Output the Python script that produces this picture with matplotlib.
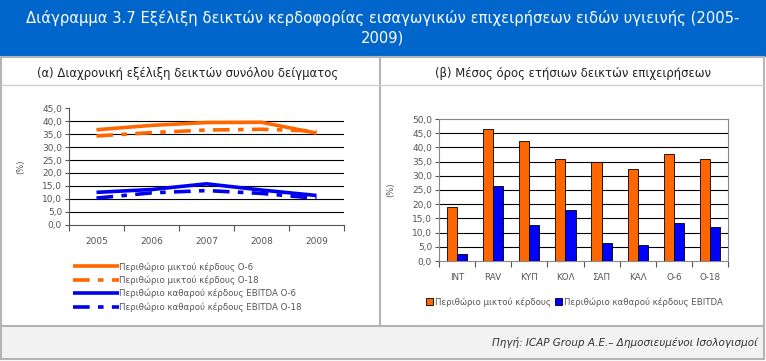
import matplotlib
matplotlib.use("Agg")
import matplotlib.pyplot as plt
from matplotlib.patches import Rectangle
import numpy as np

plt.rcParams['font.family'] = ['DejaVu Sans']
plt.rcParams['lines.scale_dashes'] = False

# ---- data ----
years = ['2005', '2006', '2007', '2008', '2009']
gross_o6 = [36.7, 38.4, 39.5, 39.6, 35.4]
gross_o18 = [34.3, 35.6, 36.6, 36.9, 36.2]
ebitda_o6 = [12.5, 13.6, 15.8, 13.4, 11.3]
ebitda_o18 = [10.3, 12.3, 13.2, 12.1, 10.2]
line_labels = ['Περιθώριο μικτού κέρδους Ο-6', 'Περιθώριο μικτού κέρδους Ο-18',
               'Περιθώριο καθαρού κέρδους EBITDA Ο-6', 'Περιθώριο καθαρού κέρδους EBITDA Ο-18']

groups = ['INT', 'RAV', 'ΚΥΠ', 'ΚΟΛ', 'ΣΑΠ', 'ΚΑΛ', 'Ο-6', 'Ο-18']
gross_avg = [19.0, 46.5, 42.3, 36.0, 35.0, 32.5, 37.8, 36.0]
ebitda_avg = [2.5, 26.5, 12.7, 18.0, 6.5, 5.8, 13.4, 12.0]
bar_labels = ['Περιθώριο μικτού κέρδους', 'Περιθώριο καθαρού κέρδους EBITDA']

title = 'Διάγραμμα 3.7 Εξέλιξη δεικτών κερδοφορίας εισαγωγικών επιχειρήσεων ειδών υγιεινής (2005-\n2009)'
sub_a = '(α) Διαχρονική εξέλιξη δεικτών συνόλου δείγματος'
sub_b = '(β) Μέσος όρος ετήσιων δεικτών επιχειρήσεων'
source = 'Πηγή: ICAP Group A.E.– Δημοσιευμένοι Ισολογισμοί'

W, H = 766, 361
fig = plt.figure(figsize=(W/100, H/100), dpi=100)
fig.patch.set_facecolor('white')

def fx(x): return x / W
def fy(y): return 1 - y / H

ORANGE = '#FF6600'
BLUE = '#0000F0'
GRAY = '#555555'
FRAME = '#B4B4B4'

# backgrounds / frames
bg = fig.add_axes([0, 0, 1, 1])
bg.set_xlim(0, W); bg.set_ylim(H, 0); bg.axis('off')
bg.add_patch(Rectangle((0, 0), W, 57, facecolor='#0066CC', edgecolor='none'))
bg.add_patch(Rectangle((1, 57), W-3, H-59, facecolor='none', edgecolor=FRAME, lw=1.5))
bg.plot([380, 380], [57, 326], color=FRAME, lw=1.5)
bg.plot([1, W-2], [85, 85], color='#D0D0D0', lw=1)
bg.add_patch(Rectangle((1, 326), W-3, H-328, facecolor='#F2F2F2', edgecolor=FRAME, lw=1.5))
bg.text(W/2, 28, title, color='white', fontsize=10.6, ha='center', va='center', linespacing=1.4)
bg.text(188, 73, sub_a, fontsize=8.4, ha='center', va='center', color='#222222')
bg.text(573, 73, sub_b, fontsize=8.4, ha='center', va='center', color='#222222')
bg.text(758, 343, source, fontsize=7.5, ha='right', va='center', style='italic', color='#333333')

# ---- left line chart ----
ax1 = fig.add_axes([fx(69), fy(224.7), fx(344-69), (224.7-108.3)/H])
x = np.arange(len(years))
ax1.plot(x, gross_o6, color=ORANGE, lw=2.6, solid_capstyle='butt', label=line_labels[0])
ax1.plot(x, gross_o18, color=ORANGE, lw=2.6, dashes=(12, 6, 4, 6), label=line_labels[1])
ax1.plot(x, ebitda_o6, color=BLUE, lw=2.6, solid_capstyle='butt', label=line_labels[2])
ax1.plot(x, ebitda_o18, color=BLUE, lw=2.6, dashes=(12, 6, 4, 6), label=line_labels[3])
ax1.set_xlim(-0.5, len(years)-0.5)
ax1.set_ylim(0, 45)
ax1.set_yticks(np.arange(0, 45.1, 5))
ax1.set_yticklabels([f'{v:.1f}'.replace('.', ',') for v in np.arange(0, 45.1, 5)])
ax1.set_xticks(x)
ax1.set_xticklabels(years)
ax1.set_xticks(np.arange(-0.5, len(years)), minor=True)
ax1.tick_params(axis='x', which='major', length=0, pad=9, labelsize=6.5, labelcolor=GRAY)
ax1.tick_params(axis='x', which='minor', length=4, color=GRAY, width=0.8)
ax1.tick_params(axis='y', length=3, color=GRAY, width=0.8, labelsize=6.5, labelcolor=GRAY, pad=2)
for v in np.arange(5, 41, 5):
    ax1.axhline(v, color='black', lw=0.8, zorder=0)
for s in ['top', 'right']:
    ax1.spines[s].set_visible(False)
for s in ['left', 'bottom']:
    ax1.spines[s].set_color(GRAY); ax1.spines[s].set_linewidth(0.8)
ax1.set_ylabel('(%)', fontsize=6, color=GRAY, labelpad=12)
ax1.patch.set_alpha(0)
h1, l1 = ax1.get_legend_handles_labels()
fig.legend(h1, l1, loc='upper left', bbox_to_anchor=(fx(73), fy(262)), frameon=False,
           fontsize=6.2, labelcolor=GRAY, handlelength=5.3, handletextpad=0.05,
           labelspacing=0.45, borderaxespad=0, borderpad=0)

# ---- right bar chart ----
ax2 = fig.add_axes([fx(439), fy(261), fx(728-439), (261-119)/H])
xb = np.arange(len(groups))
bw = 0.28
ax2.bar(xb - bw/2, gross_avg, bw, color=ORANGE, edgecolor='black', lw=0.6, label=bar_labels[0], zorder=3)
ax2.bar(xb + bw/2, ebitda_avg, bw, color='#0000FF', edgecolor='black', lw=0.6, label=bar_labels[1], zorder=3)
ax2.set_xlim(-0.5, len(groups)-0.5)
ax2.set_ylim(0, 50)
yt = np.arange(0, 50.1, 5)
ax2.set_yticks(yt)
ax2.set_yticklabels([f'{v:.1f}'.replace('.', ',') for v in yt])
ax2.set_xticks(xb)
ax2.set_xticklabels(groups)
ax2.set_xticks(np.arange(-0.5, len(groups)), minor=True)
ax2.tick_params(axis='x', which='major', length=0, pad=9, labelsize=6.3, labelcolor=GRAY)
ax2.tick_params(axis='x', which='minor', length=4, color=GRAY, width=0.8)
ax2.tick_params(axis='y', length=3, color=GRAY, width=0.8, labelsize=6.5, labelcolor=GRAY, pad=2)
for v in np.arange(5, 50, 5):
    ax2.axhline(v, color='black', lw=0.8, zorder=1)
for s in ax2.spines.values():
    s.set_color('#888888'); s.set_linewidth(0.8)
ax2.set_ylabel('(%)', fontsize=6, color=GRAY, labelpad=12)
h2, l2 = ax2.get_legend_handles_labels()
fig.legend(h2, l2, loc='center left', bbox_to_anchor=(fx(426), fy(302)), frameon=False, ncol=2,
           fontsize=6.2, labelcolor=GRAY, handlelength=0.8, handleheight=0.8, handletextpad=0.3,
           columnspacing=0.4, borderaxespad=0, borderpad=0)

fig.savefig('out.png', dpi=100)
